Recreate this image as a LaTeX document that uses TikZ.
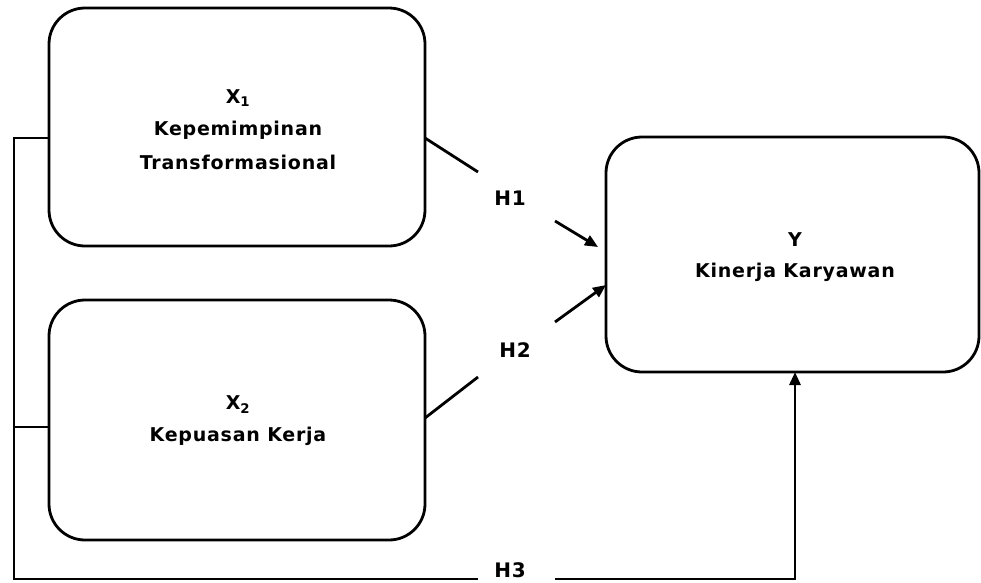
\documentclass[tikz,border=0pt]{standalone}
\usepackage{fontspec}
\setmainfont{DejaVu Sans}[LetterSpace=4]
\usetikzlibrary{arrows.meta}
\begin{document}
\begin{tikzpicture}[x=1pt,y=-1pt,
  box/.style={draw,line width=2.8pt,rounded corners=36pt},
  lbl/.style={font=\bfseries\fontsize{19}{22}\selectfont,align=center,inner sep=0pt},
  hlbl/.style={font=\bfseries\fontsize{20}{24}\selectfont,inner sep=0pt},
  con/.style={line width=2.8pt},
  arr/.style={line width=2.8pt,-{Triangle[length=13pt,width=11pt]}}]
\useasboundingbox (0,0) rectangle (981,582);
\draw[box] (49,8) rectangle (425,246);
\draw[box] (49,300) rectangle (425,540);
\draw[box] (606,137) rectangle (979,372);
\node[lbl] (x1) at (238,98) {X\textsubscript{1}};
\node[lbl] (x1a) at (238,130) {Kepemimpinan};
\node[lbl] (x1b) at (238,162) {Transformasional};
\node[lbl] (x2) at (238,405) {X\textsubscript{2}};
\node[lbl] (x2a) at (238,436) {Kepuasan Kerja};
\node[lbl] (y) at (795,240) {Y};
\node[lbl] (ya) at (795,272) {Kinerja Karyawan};
\node[hlbl] (h1) at (510,198) {H1};
\node[hlbl] (h2) at (515,350) {H2};
\node[hlbl] (h3) at (510,570) {H3};
\coordinate (a1) at (425,138);
\coordinate (a2) at (478,172);
\coordinate (a3) at (555,221);
\coordinate (a4) at (598,247);
\coordinate (b1) at (425,418);
\coordinate (b2) at (478,377);
\coordinate (b3) at (555,322);
\coordinate (b4) at (606,285);
\coordinate (c1) at (49,138);
\coordinate (c2) at (14,138);
\coordinate (c3) at (14,579);
\coordinate (c4) at (478,579);
\coordinate (c5) at (555,579);
\coordinate (c6) at (795,579);
\coordinate (c7) at (795,372);
\coordinate (d1) at (49,427);
\coordinate (d2) at (14,427);
\draw[con] (a1) -- (a2);
\draw[arr] (a3) -- (a4);
\draw[con] (b1) -- (b2);
\draw[arr] (b3) -- (b4);
\draw[con] (c4) -- (c3) -- (c2) -- (c1);
\draw[con] (d1) -- (d2);
\draw[arr] (c5) -- (c6) -- (c7);
\end{tikzpicture}
\end{document}
